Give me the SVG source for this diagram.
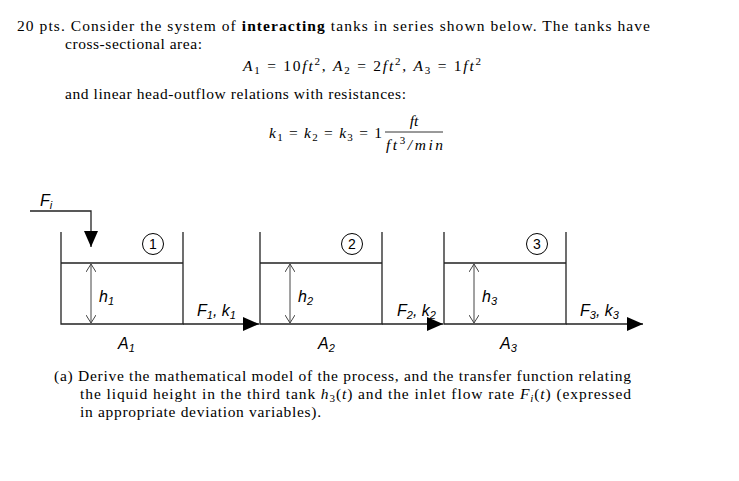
<svg xmlns="http://www.w3.org/2000/svg" width="739" height="481" viewBox="0 0 739 481">
<style>
.t{font-family:"Liberation Serif","DejaVu Serif",serif;font-size:15.5px;fill:#000}
.s{font-family:"Liberation Sans",Arial,sans-serif;font-size:16px;font-style:italic;fill:#000}
.n{font-family:"Liberation Sans",Arial,sans-serif;font-size:14px;fill:#000}
.sub{font-size:11px}
.w{stroke:#222;stroke-width:1.3;fill:none}
.h{stroke:#444;stroke-width:1;fill:none}
</style>
<defs>
<marker id="dn" markerWidth="16" markerHeight="14" refX="16" refY="7" orient="auto" markerUnits="userSpaceOnUse" viewBox="0 0 16 14"><path d="M0,0L16,7L0,14z" fill="#000"/></marker>
<marker id="op" markerWidth="8" markerHeight="10" refX="8" refY="5" orient="auto-start-reverse" markerUnits="userSpaceOnUse" viewBox="0 0 8 10"><path d="M0,0L8,5L0,10" fill="none" stroke="#444"/></marker>
</defs>
<rect width="739" height="481" fill="#fff"/>
<text class="t" x="17" y="31" textLength="633" lengthAdjust="spacing">20 pts. Consider the system of <tspan font-weight="bold">interacting</tspan> tanks in series shown below.  The tanks have</text>
<text class="t" x="65" y="49" textLength="137" lengthAdjust="spacing">cross-sectional area:</text>
<text class="t" x="243" y="71" textLength="238" lengthAdjust="spacing"><tspan font-style="italic">A</tspan><tspan class="sub" dy="3">1</tspan><tspan dy="-3"> = 10</tspan><tspan font-style="italic">ft</tspan><tspan class="sub" dy="-6">2</tspan><tspan dy="6">, </tspan><tspan font-style="italic">A</tspan><tspan class="sub" dy="3">2</tspan><tspan dy="-3"> = 2</tspan><tspan font-style="italic">ft</tspan><tspan class="sub" dy="-6">2</tspan><tspan dy="6">, </tspan><tspan font-style="italic">A</tspan><tspan class="sub" dy="3">3</tspan><tspan dy="-3"> = 1</tspan><tspan font-style="italic">ft</tspan><tspan class="sub" dy="-6">2</tspan></text>
<text class="t" x="65" y="99" textLength="341" lengthAdjust="spacing">and linear head-outflow relations with resistances:</text>
<text class="t" x="269" y="138" textLength="113" lengthAdjust="spacing"><tspan font-style="italic">k</tspan><tspan class="sub" dy="3">1</tspan><tspan dy="-3"> = </tspan><tspan font-style="italic">k</tspan><tspan class="sub" dy="3">2</tspan><tspan dy="-3"> = </tspan><tspan font-style="italic">k</tspan><tspan class="sub" dy="3">3</tspan><tspan dy="-3"> = 1</tspan></text>
<text class="t" x="414" y="126" font-style="italic" text-anchor="middle">ft</text>
<line x1="385" y1="132" x2="443" y2="132" stroke="#000" stroke-width="0.8"/>
<text class="t" x="386" y="150" textLength="57" lengthAdjust="spacing"><tspan font-style="italic">ft</tspan><tspan class="sub" dy="-6">3</tspan><tspan dy="6" font-style="italic">/min</tspan></text>

<g id="connectors">
<path class="w" d="M30,211H91V247" marker-end="url(#dn)"/>
<line class="w" x1="183" y1="324" x2="259" y2="324" marker-end="url(#dn)"/>
<line class="w" x1="382" y1="324" x2="443" y2="324" marker-end="url(#dn)"/>
<line class="w" x1="566" y1="324" x2="643" y2="324" marker-end="url(#dn)"/>
</g>
<g id="tank1">
<path class="w" d="M61,232V324H183V232M61,263H183"/>
<line class="h" x1="91" y1="264" x2="91" y2="323" marker-start="url(#op)" marker-end="url(#op)"/>
<circle cx="153" cy="244" r="10.5" fill="#fff" stroke="#000"/>
<text class="n" x="153" y="249" text-anchor="middle">1</text>
<text class="s" x="99" y="302">h<tspan class="sub" dy="3">1</tspan></text>
<text class="s" x="118" y="349">A<tspan class="sub" dy="3">1</tspan></text>
<text class="s" x="197" y="316">F<tspan class="sub" dy="3">1</tspan><tspan dy="-3">, k</tspan><tspan class="sub" dy="3">1</tspan></text>
<text class="s" x="40" y="206">F<tspan class="sub" dy="3">i</tspan></text>
</g>
<g id="tank2">
<path class="w" d="M260,232V324H382V232M260,263H382"/>
<line class="h" x1="290" y1="264" x2="290" y2="323" marker-start="url(#op)" marker-end="url(#op)"/>
<circle cx="352" cy="244" r="10.5" fill="#fff" stroke="#000"/>
<text class="n" x="352" y="249" text-anchor="middle">2</text>
<text class="s" x="298" y="302">h<tspan class="sub" dy="3">2</tspan></text>
<text class="s" x="318" y="349">A<tspan class="sub" dy="3">2</tspan></text>
<text class="s" x="397" y="316">F<tspan class="sub" dy="3">2</tspan><tspan dy="-3">, k</tspan><tspan class="sub" dy="3">2</tspan></text>
</g>
<g id="tank3">
<path class="w" d="M444,232V324H566V232M444,263H566"/>
<line class="h" x1="474" y1="264" x2="474" y2="323" marker-start="url(#op)" marker-end="url(#op)"/>
<circle cx="537" cy="244" r="10.5" fill="#fff" stroke="#000"/>
<text class="n" x="537" y="249" text-anchor="middle">3</text>
<text class="s" x="482" y="302">h<tspan class="sub" dy="3">3</tspan></text>
<text class="s" x="500" y="349">A<tspan class="sub" dy="3">3</tspan></text>
<text class="s" x="580" y="316">F<tspan class="sub" dy="3">3</tspan><tspan dy="-3">, k</tspan><tspan class="sub" dy="3">3</tspan></text>
</g>
<text class="t" x="54" y="381" textLength="577" lengthAdjust="spacing">(a) Derive the mathematical model of the process, and the transfer function relating</text>
<text class="t" x="80" y="399" textLength="551" lengthAdjust="spacing">the liquid height in the third tank <tspan font-style="italic">h</tspan><tspan class="sub" dy="3">3</tspan><tspan dy="-3">(</tspan><tspan font-style="italic">t</tspan>) and the inlet flow rate <tspan font-style="italic">F</tspan><tspan class="sub" dy="3" font-style="italic">i</tspan><tspan dy="-3">(</tspan><tspan font-style="italic">t</tspan>) (expressed</text>
<text class="t" x="80" y="417" textLength="241" lengthAdjust="spacing">in appropriate deviation variables).</text>
</svg>
